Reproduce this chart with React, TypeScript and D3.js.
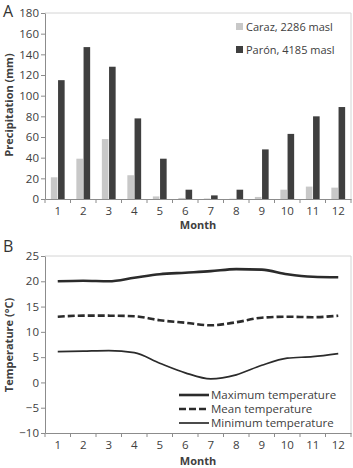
import { useEffect, useRef } from "react";
import * as d3 from "d3";

const months = ["1", "2", "3", "4", "5", "6", "7", "8", "9", "10", "11", "12"];
const caraz = [21, 39, 58, 23, 2.5, 1, 0.5, 0.3, 2, 9, 12, 11];
const paron = [115, 147, 128, 78, 39, 9, 3.5, 9, 48, 63, 80, 89];
const precipTicks = [0, 20, 40, 60, 80, 100, 120, 140, 160, 180];

const tMax = [20, 20.1, 20, 20.7, 21.4, 21.7, 22, 22.4, 22.3, 21.4, 20.9, 20.8];
const tMean = [13, 13.2, 13.2, 13.1, 12.3, 11.8, 11.3, 11.9, 12.8, 13, 12.9, 13.2];
const tMin = [6.1, 6.2, 6.3, 5.9, 3.8, 1.9, 0.7, 1.5, 3.4, 4.8, 5.1, 5.7];
const tempTicks = [-10, -5, 0, 5, 10, 15, 20, 25];

const FONT = "'Open Sans', 'Liberation Sans', sans-serif";
const AXIS = "#8c8c8c";
const TEXT = "#404040";

const App = () => {
  const ref = useRef<SVGSVGElement | null>(null);

  useEffect(() => {
    const svg = d3.select(ref.current);
    svg.selectAll("*").remove();
    svg.style("font-family", FONT);

    const left = 45;
    const right = 351;

    const x = d3.scaleBand().domain(months).range([left, right]);

    // ---------- Panel A: precipitation bars ----------
    const yA = d3.scaleLinear().domain([0, 180]).range([199, 13]);
    const a = svg.append("g");

    a.append("path")
      .attr("d", `M${left},13H${right}V199`)
      .attr("fill", "none")
      .attr("stroke", "#d4d4d4");

    const barW = 6.6;
    const groups = a
      .selectAll("g.m")
      .data(months)
      .join("g")
      .attr("transform", (m) => `translate(${x(m)! + x.bandwidth() / 2},0)`);
    groups
      .append("rect")
      .attr("x", -barW - 0.3)
      .attr("width", barW)
      .attr("y", (_, i) => yA(caraz[i]))
      .attr("height", (_, i) => yA(0) - yA(caraz[i]))
      .attr("fill", "#c8c8c8");
    groups
      .append("rect")
      .attr("x", 0.3)
      .attr("width", barW)
      .attr("y", (_, i) => yA(paron[i]))
      .attr("height", (_, i) => yA(0) - yA(paron[i]))
      .attr("fill", "#3f3f3f");

    const axA = a
      .append("g")
      .attr("transform", `translate(${left},0)`)
      .call(d3.axisLeft(yA).tickValues(precipTicks).tickSize(4).tickSizeOuter(0));
    const bxA = a
      .append("g")
      .attr("transform", "translate(0,199)")
      .call(d3.axisBottom(x).tickSize(0).tickPadding(8));
    // category separators on the x axis
    a.selectAll("line.sep")
      .data(d3.range(13))
      .join("line")
      .attr("x1", (i) => left + i * x.step())
      .attr("x2", (i) => left + i * x.step())
      .attr("y1", 199)
      .attr("y2", 203)
      .attr("stroke", AXIS);

    a.append("text")
      .attr("transform", "translate(13,105) rotate(-90)")
      .attr("text-anchor", "middle")
      .attr("font-size", 11)
      .attr("font-weight", "bold")
      .attr("fill", TEXT)
      .text("Precipitation (mm)");
    a.append("text")
      .attr("x", 198)
      .attr("y", 229)
      .attr("text-anchor", "middle")
      .attr("font-size", 11)
      .attr("font-weight", "bold")
      .attr("fill", TEXT)
      .text("Month");
    a.append("text")
      .attr("x", 3)
      .attr("y", 17)
      .attr("font-size", 16)
      .attr("fill", "#333")
      .text("A");

    const legA = [
      { name: "Caraz, 2286 masl", color: "#c8c8c8", y: 27 },
      { name: "Parón, 4185 masl", color: "#3f3f3f", y: 50 },
    ];
    const la = a.selectAll("g.leg").data(legA).join("g");
    la.append("rect")
      .attr("x", 236)
      .attr("y", (d) => d.y - 4)
      .attr("width", 7)
      .attr("height", 7)
      .attr("fill", (d) => d.color);
    la.append("text")
      .attr("x", 246)
      .attr("y", (d) => d.y + 4)
      .attr("font-size", 11)
      .attr("fill", TEXT)
      .text((d) => d.name);

    // ---------- Panel B: temperature lines ----------
    const yB = d3.scaleLinear().domain([-10, 25]).range([433, 256]);
    const b = svg.append("g");

    b.append("path")
      .attr("d", `M${left},256H${right}V433`)
      .attr("fill", "none")
      .attr("stroke", "#d4d4d4");

    const axB = b
      .append("g")
      .attr("transform", `translate(${left},0)`)
      .call(d3.axisLeft(yB).tickValues(tempTicks).tickSize(4).tickSizeOuter(0));
    const bxB = b
      .append("g")
      .attr("transform", "translate(0,433)")
      .call(d3.axisBottom(x).tickSize(0).tickPadding(8));
    b.selectAll("line.sep")
      .data(d3.range(13))
      .join("line")
      .attr("x1", (i) => left + i * x.step())
      .attr("x2", (i) => left + i * x.step())
      .attr("y1", 433)
      .attr("y2", 437)
      .attr("stroke", AXIS);

    const series = [
      { name: "Maximum temperature", values: tMax, width: 2.6, dash: null },
      { name: "Mean temperature", values: tMean, width: 2.6, dash: "7,3" },
      { name: "Minimum temperature", values: tMin, width: 1.7, dash: null },
    ];
    const line = d3
      .line<number>()
      .x((_, i) => x(months[i])! + x.bandwidth() / 2)
      .y((v) => yB(v))
      .curve(d3.curveMonotoneX);
    b.selectAll("path.series")
      .data(series)
      .join("path")
      .attr("fill", "none")
      .attr("stroke", "#2b2b2b")
      .attr("stroke-width", (d) => d.width)
      .attr("stroke-dasharray", (d) => d.dash)
      .attr("d", (d) => line(d.values));

    const lb = b
      .selectAll("g.leg")
      .data(series)
      .join("g")
      .attr("transform", (_, i) => `translate(0,${395 + i * 14})`);
    lb.append("line")
      .attr("x1", 179)
      .attr("x2", 209)
      .attr("stroke", "#2b2b2b")
      .attr("stroke-width", (d) => d.width)
      .attr("stroke-dasharray", (d) => d.dash);
    lb.append("text")
      .attr("x", 211)
      .attr("y", 4)
      .attr("font-size", 11.5)
      .attr("fill", TEXT)
      .text((d) => d.name);

    b.append("text")
      .attr("transform", "translate(13,345) rotate(-90)")
      .attr("text-anchor", "middle")
      .attr("font-size", 11)
      .attr("font-weight", "bold")
      .attr("fill", TEXT)
      .text("Temperature (°C)");
    b.append("text")
      .attr("x", 198)
      .attr("y", 465)
      .attr("text-anchor", "middle")
      .attr("font-size", 11)
      .attr("font-weight", "bold")
      .attr("fill", TEXT)
      .text("Month");
    b.append("text")
      .attr("x", 3)
      .attr("y", 252)
      .attr("font-size", 16)
      .attr("fill", "#333")
      .text("B");

    // axis styling shared by both panels
    [axA, axB, bxA, bxB].forEach((g) => {
      g.select(".domain").attr("stroke", AXIS);
      g.selectAll(".tick line").attr("stroke", AXIS);
      g.selectAll(".tick text")
        .attr("font-family", FONT)
        .attr("font-size", 11.5)
        .attr("fill", TEXT);
    });
    [axA, axB].forEach((g) => g.selectAll(".tick text").attr("x", -6));
  }, []);

  return (
    <svg
      ref={ref}
      width={353}
      height={468}
      style={{ position: "absolute", left: 0, top: 0, background: "#fff" }}
    />
  );
};

export default App;
